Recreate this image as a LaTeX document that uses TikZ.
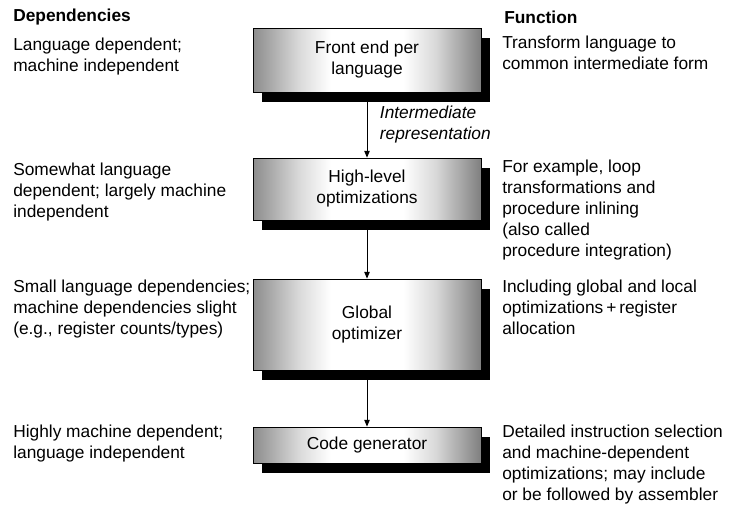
\documentclass[tikz,border=0pt]{standalone}
\usepackage{fontspec}
\setmainfont{Liberation Sans}
\usetikzlibrary{arrows.meta,shadows}
\pgfdeclarehorizontalshading{speckle}{100bp}{color(0bp)=(black!45); color(25bp)=(black!45);
  color(35bp)=(black!15); color(42bp)=(white); color(58bp)=(white);
  color(65bp)=(black!15); color(75bp)=(black!50); color(100bp)=(black!50)}

\begin{document}
\begin{tikzpicture}[
    x=0.75pt, y=-0.75pt,
    every node/.style={font=\fontsize{13}{15.75}\selectfont},
    stage/.style={rectangle, draw=black, line width=0.6pt, shade, shading=speckle,
                  minimum width=171pt, align=center, inner sep=2pt,
                  general shadow={fill=black, shadow xshift=6.75pt, shadow yshift=-7.5pt}},
    note/.style={anchor=north west, align=left, inner sep=0pt},
    head/.style={anchor=west, inner sep=0pt, font=\fontsize{13}{15.75}\selectfont\bfseries},
    flow/.style={-{Triangle[length=5pt,width=4pt]}, line width=0.75pt, shorten <=7.5pt}
]
\useasboundingbox (0,0) rectangle (731,508);

% Stages
\node[stage, minimum height=48pt]    (front) at (367,60)    {Front end per\\language};
\node[stage, minimum height=46.5pt]  (high)  at (367,189)   {High-level\\optimizations};
\node[stage, minimum height=68.25pt] (glob)  at (367,324.5) {Global\\optimizer};
\node[stage, minimum height=27pt]    (code)  at (367,445)   {Code generator};

% Flow between stages
\draw[flow] (front) -- node[pos=0.5, right=6pt, align=left,
    font=\fontsize{13}{15.75}\selectfont\itshape] (irlbl) {Intermediate\\representation} (high);
\draw[flow] (high) -- (glob);
\draw[flow] (glob) -- (code);

% Dependencies column
\node[head] (dephd) at (13,17) {Dependencies};
\node[note] (dep1) at (13,38)  {Language dependent;\\machine independent};
\node[note] (dep2) at (13,163) {Somewhat language\\dependent; largely machine\\independent};
\node[note] (dep3) at (13,280) {Small language dependencies;\\machine dependencies slight\\(e.g., register counts/types)};
\node[note] (dep4) at (13,425) {Highly machine dependent;\\language independent};

% Function column
\node[head] (funhd) at (504,17) {Function};
\node[note] (fun1) at (502,36)  {Transform language to\\common intermediate form};
\node[note] (fun2) at (502,160) {For example, loop\\transformations and\\procedure inlining\\(also called\\procedure integration)};
\node[note] (fun3) at (502,280) {Including global and local\\optimizations\,+\,register\\allocation};
\node[note] (fun4) at (502,425) {Detailed instruction selection\\and machine-dependent\\optimizations; may include\\or be followed by assembler};

\end{tikzpicture}
\end{document}
